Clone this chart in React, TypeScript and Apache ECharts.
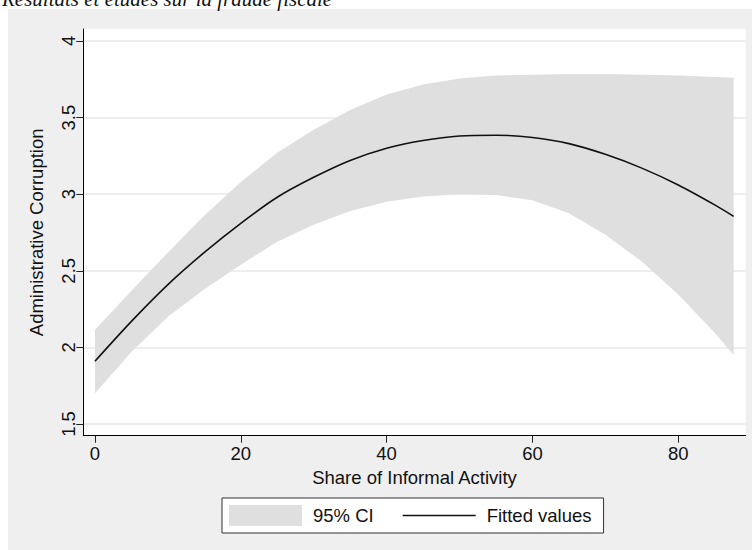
import React, { useEffect, useRef } from "react";
import * as echarts from "echarts";

// Share of informal activity (x) at which the fit is read
const xValues = [0, 5, 10, 15, 20, 25, 30, 35, 40, 45, 50, 55, 60, 65, 70, 75, 80, 85, 87.6];
// Fitted values (quadratic fit)
const fittedValues = [1.91, 2.17, 2.41, 2.62, 2.81, 2.98, 3.11, 3.22, 3.3, 3.35, 3.38, 3.385, 3.37, 3.33, 3.26, 3.17, 3.06, 2.93, 2.855];
// 95% confidence interval bounds
const ciUpper = [2.115, 2.37, 2.62, 2.86, 3.08, 3.27, 3.42, 3.55, 3.65, 3.715, 3.755, 3.775, 3.78, 3.785, 3.785, 3.78, 3.775, 3.765, 3.76];
const ciLower = [1.7, 1.97, 2.2, 2.38, 2.54, 2.69, 2.8, 2.89, 2.95, 2.985, 3.0, 2.995, 2.96, 2.875, 2.735, 2.56, 2.345, 2.095, 1.95];

const xTicks = [0, 20, 40, 60, 80];
const yTicks = [1.5, 2, 2.5, 3, 3.5, 4];

const FONT = '"Liberation Sans", Arial, Helvetica, sans-serif';
const FS = 18.5;

export default function App() {
  const ref = useRef<HTMLDivElement>(null);
  useEffect(() => {
    if (!ref.current) return;
    const chart = echarts.init(ref.current, undefined, { renderer: "svg" });
    const bandData = xValues.map((x, i) => [x, ciLower[i], ciUpper[i]]);
    const fitData = xValues.map((x, i) => [x, fittedValues[i]]);
    chart.setOption({
      animation: false,
      backgroundColor: "#ffffff",
      textStyle: { fontFamily: FONT },
      graphic: [
        {
          type: "rect",
          z: -10,
          silent: true,
          shape: { x: 8, y: 9, width: 744, height: 541 },
          style: { fill: "#efefef" },
        },
        {
          type: "text",
          z: 10,
          x: 2,
          y: 9,
          silent: true,
          style: {
            text: "Résultats et études sur la fraude fiscale",
            font: 'italic 21px "Liberation Serif", "DejaVu Serif", serif',
            fill: "#111",
            textVerticalAlign: "bottom",
          },
        },
      ],
      grid: {
        left: 83.3,
        top: 29,
        right: 6.3,
        bottom: 114.3,
        show: true,
        backgroundColor: "#ffffff",
        borderWidth: 0,
      },
      legend: {
        left: 222,
        top: 498,
        orient: "horizontal",
        padding: [7, 12, 7, 7],
        backgroundColor: "#ffffff",
        borderColor: "#333333",
        borderWidth: 1,
        itemWidth: 73,
        itemHeight: 21,
        itemGap: 29,
        textStyle: { fontSize: FS, color: "#111", fontFamily: FONT, padding: [0, 0, 0, 6] },
        data: [
          { name: "95% CI", icon: "rect", itemStyle: { color: "#dfdfdf" } },
          { name: "Fitted values", icon: "path://M0,0 H73 V1.6 H0 Z", itemStyle: { color: "#111111" } },
        ],
      },
      xAxis: {
        type: "value",
        min: -1.6,
        max: 89.25,
        name: "Share of Informal Activity",
        nameLocation: "middle",
        nameGap: 26,
        nameTextStyle: { fontSize: FS, color: "#111", fontFamily: FONT },
        axisLine: { show: true, onZero: false, lineStyle: { color: "#000", width: 1 } },
        axisTick: { show: true, length: 7, customValues: xTicks, lineStyle: { color: "#222", width: 1 } },
        axisLabel: { customValues: xTicks, fontSize: FS, color: "#111", margin: 8, fontFamily: FONT },
        splitLine: { show: false },
      },
      yAxis: {
        type: "value",
        min: 1.4236,
        max: 4.078,
        name: "Administrative Corruption",
        nameLocation: "middle",
        nameGap: 37,
        nameTextStyle: { fontSize: FS, color: "#111", fontFamily: FONT },
        axisLine: { show: true, onZero: false, lineStyle: { color: "#000", width: 1 } },
        axisTick: { show: true, length: 7, customValues: yTicks, lineStyle: { color: "#222", width: 1 } },
        axisLabel: { customValues: yTicks, rotate: 90, fontSize: FS, color: "#111", margin: 5, fontFamily: FONT },
        splitLine: { show: true, lineStyle: { color: "#e8e8e8", width: 1.5 } },
      },
      series: [
        {
          name: "95% CI",
          type: "custom",
          data: bandData,
          encode: { x: 0, y: [1, 2] },
          itemStyle: { color: "#dfdfdf" },
          silent: true,
          z: 2,
          renderItem: (params: any, api: any) => {
            if (params.dataIndex !== 0) return null;
            const pts: number[][] = [];
            for (let i = 0; i < xValues.length; i++) pts.push(api.coord([xValues[i], ciUpper[i]]));
            for (let i = xValues.length - 1; i >= 0; i--) pts.push(api.coord([xValues[i], ciLower[i]]));
            return {
              type: "polygon",
              shape: { points: pts },
              style: { fill: "#dfdfdf", stroke: "none" },
            };
          },
        },
        {
          name: "Fitted values",
          type: "line",
          data: fitData,
          smooth: 0.3,
          symbol: "none",
          color: "#111111",
          lineStyle: { color: "#111111", width: 1.6 },
          silent: true,
          z: 3,
        },
      ],
    });
    return () => chart.dispose();
  }, []);
  return (
    <div
      ref={ref}
      style={{ position: "absolute", left: 0, top: 0, width: 752, height: 550 }}
    />
  );
}
